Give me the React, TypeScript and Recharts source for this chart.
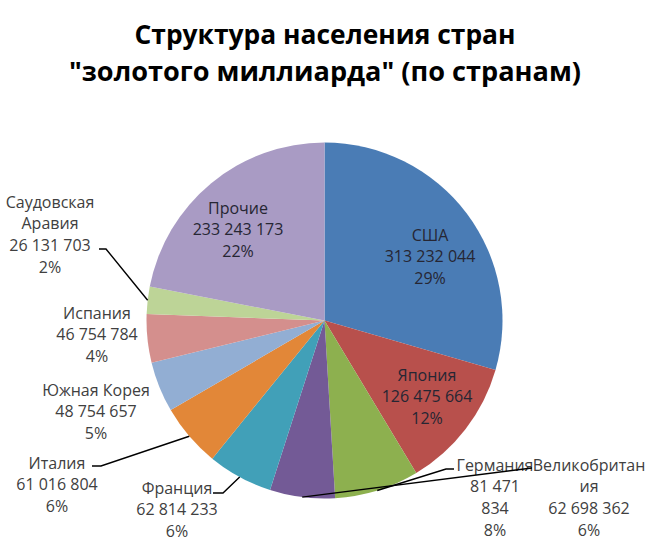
import React from 'react';
import { PieChart, Pie, Cell } from 'recharts';

const countries = ['США', 'Япония', 'Германия', 'Великобритания', 'Франция', 'Италия', 'Южная Корея', 'Испания', 'Саудовская Аравия', 'Прочие'];
const population = [313232044, 126475664, 81471834, 62698362, 62814233, 61016804, 48754657, 46754784, 26131703, 233243173];
const colors = ['#4A7CB5', '#B8504C', '#8DB04F', '#735A96', '#41A0B8', '#E28738', '#92AED3', '#D48F8D', '#BDD497', '#A99BC4'];
const titleLines = ['Структура населения стран', '"золотого миллиарда" (по странам)'];

const data = countries.map((name, i) => ({ name, value: population[i] }));

// label layout (offsets relative to the pie centre), style only
type Layout = { dx: number; dy: number; wrap: number; color: string; leader?: number[][] };
const labelLayout: Layout[] = [
  { dx: 105.5, dy: -85.5, wrap: 30, color: '#262633' },
  { dx: 102.5, dy: 54.5, wrap: 30, color: '#262633' },
  { dx: 170.5, dy: 144.5, wrap: 8, color: '#404040', leader: [[121.5, 148.5], [129.5, 148.5]] },
  { dx: 264.5, dy: 144.5, wrap: 12, color: '#404040', leader: [[207.5, 147.5]] },
  { dx: -147.5, dy: 167.5, wrap: 30, color: '#404040', leader: [[-101.5, 172.5], [-111.5, 172.5]] },
  { dx: -267.5, dy: 142.5, wrap: 30, color: '#404040', leader: [[-223.5, 145.5], [-232.5, 145.5]] },
  { dx: -228.5, dy: 69.5, wrap: 30, color: '#404040' },
  { dx: -227.5, dy: -7.5, wrap: 30, color: '#404040' },
  { dx: -274.5, dy: -118.5, wrap: 10, color: '#404040', leader: [[-218.5, -71.5], [-225.5, -71.5]] },
  { dx: -86.5, dy: -112.5, wrap: 30, color: '#262633' },
];

const LINE_H = 21.8;
const RADIAN = Math.PI / 180;

const fmt = (v: number) => String(v).replace(/\B(?=(\d{3})+(?!\d))/g, ' ');

function wrap(text: string, max: number): string[] {
  const lines: string[] = [];
  let cur = '';
  for (const w of text.split(' ')) {
    const cand = cur ? cur + ' ' + w : w;
    if (cand.length <= max) {
      cur = cand;
    } else {
      if (cur) lines.push(cur);
      cur = w;
      while (cur.length > max) {
        lines.push(cur.slice(0, max));
        cur = cur.slice(max);
      }
    }
  }
  if (cur) lines.push(cur);
  return lines;
}

const renderLabel = (props: any) => {
  const { cx, cy, midAngle, outerRadius, index, percent, value, name } = props;
  const lay = labelLayout[index];
  if (!lay) return null;
  const lines = [...wrap(String(name), lay.wrap), ...wrap(fmt(Number(value)), lay.wrap), `${Math.round(percent * 100)}%`];
  const x = cx + lay.dx;
  const y0 = cy + lay.dy;
  let path: string | null = null;
  if (lay.leader) {
    const sx = cx + outerRadius * Math.cos(-midAngle * RADIAN);
    const sy = cy + outerRadius * Math.sin(-midAngle * RADIAN);
    path = `M${sx},${sy}` + lay.leader.map((p) => ` L${cx + p[0]},${cy + p[1]}`).join('');
  }
  return (
    <g key={`lbl-${index}`}>
      {path && <path d={path} stroke="#000" strokeWidth={1.4} fill="none" />}
      <text textAnchor="middle" fontFamily="'Open Sans', sans-serif" fontSize={16} fill={lay.color}>
        {lines.map((l, i) => (
          <tspan key={i} x={x} y={y0 + i * LINE_H + 5.6}>
            {l}
          </tspan>
        ))}
      </text>
    </g>
  );
};

export default function App() {
  return (
    <div style={{ position: 'absolute', left: 0, top: 0, width: 653, height: 546, background: '#fff' }}>
      <PieChart width={653} height={546} margin={{ top: 0, right: 0, bottom: 0, left: 0 }}>
        <Pie
          data={data}
          dataKey="value"
          nameKey="name"
          cx={324.5}
          cy={320.5}
          outerRadius={178}
          startAngle={90}
          endAngle={-270}
          stroke="none"
          label={renderLabel}
          labelLine={false}
          isAnimationActive={false}
        >
          {data.map((d, i) => (
            <Cell key={d.name} fill={colors[i]} />
          ))}
        </Pie>
      </PieChart>
      <svg width={653} height={100} style={{ position: 'absolute', left: 0, top: 0 }}>
        <text x={325} y={43.5} textAnchor="middle" fontFamily="'Open Sans', sans-serif" fontWeight="bold" fontSize={26} fill="#000" textLength={381} lengthAdjust="spacingAndGlyphs">
          {titleLines[0]}
        </text>
        <text x={325} y={81} textAnchor="middle" fontFamily="'Open Sans', sans-serif" fontWeight="bold" fontSize={26} fill="#000" textLength={512} lengthAdjust="spacingAndGlyphs">
          {titleLines[1]}
        </text>
      </svg>
    </div>
  );
}
